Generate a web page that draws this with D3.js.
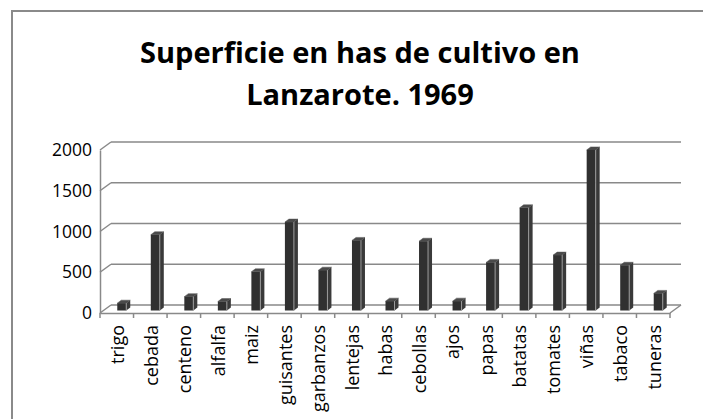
<!DOCTYPE html>
<html>
<head>
<meta charset="utf-8">
<script src="https://cdn.jsdelivr.net/npm/d3@7"></script>
<style>
  body { margin: 0; background: #fff; }
  text { font-family: "Open Sans", sans-serif; }
</style>
</head>
<body>
<div class="grafico"></div>
<script>
var width = 703, height = 419;

// datos
const cultivos = ["trigo", "cebada", "centeno", "alfalfa", "maiz", "guisantes", "garbanzos", "lentejas",
  "habas", "cebollas", "ajos", "papas", "batatas", "tomates", "viñas", "tabaco", "tuneras"];
const hectareas = [90, 930, 170, 110, 475, 1085, 495, 860, 115, 850, 115, 590, 1260, 680, 1970, 555, 210];
const ticksY = [0, 500, 1000, 1500, 2000];
const titulo = ["Superficie en has de cultivo en", "Lanzarote. 1969"];

const datos = cultivos.map((c, i) => ({ cultivo: c, valor: hectareas[i] }));

// 3d depth offset
const dx = 11, dy = 8;
const axisColor = "#898989";

let svg = d3.select(".grafico")
  .append("svg")
  .attr("width", width)
  .attr("height", height);

// marco
svg.append("rect")
  .attr("x", 12).attr("y", 11)
  .attr("width", 720).attr("height", 430)
  .attr("fill", "#fff")
  .attr("stroke", "#8a8a8a")
  .attr("stroke-width", 2);

// titulo
svg.append("g")
  .selectAll("text")
  .data(titulo)
  .enter().append("text")
  .attr("x", 360)
  .attr("y", (d, i) => 63 + i * 42)
  .attr("text-anchor", "middle")
  .attr("font-size", 29)
  .attr("font-weight", "bold")
  .attr("fill", "#000")
  .text(d => d);

const x = d3.scaleBand()
  .domain(cultivos)
  .range([100, 670]);

const y = d3.scaleLinear()
  .domain([0, 2000])
  .range([313, 150]);

// escala de las barras (a media profundidad)
const yBar = d3.scaleLinear()
  .domain([0, 2000])
  .range([310.5, 147.5]);

// lineas de la pared del fondo y lateral
let grid = svg.append("g").attr("class", "grid");
grid.selectAll("line.back")
  .data(ticksY)
  .enter().append("line")
  .attr("class", "back")
  .attr("x1", 100 + dx).attr("x2", 670 + dx)
  .attr("y1", d => y(d) - dy).attr("y2", d => y(d) - dy)
  .attr("stroke", axisColor).attr("stroke-width", 1.5);
grid.selectAll("line.side")
  .data(ticksY)
  .enter().append("line")
  .attr("class", "side")
  .attr("x1", 100).attr("x2", 100 + dx)
  .attr("y1", d => y(d)).attr("y2", d => y(d) - dy)
  .attr("stroke", axisColor).attr("stroke-width", 1.5);

// suelo: diagonal derecha
svg.append("line")
  .attr("x1", 670).attr("x2", 670 + dx)
  .attr("y1", y(0)).attr("y2", y(0) - dy)
  .attr("stroke", axisColor).attr("stroke-width", 1.5);

// eje y
let yAxis = svg.append("g")
  .attr("class", "y axis")
  .attr("transform", "translate(100,0)")
  .call(d3.axisLeft(y).tickValues(ticksY).tickFormat(d3.format("d")).tickSize(0).tickPadding(8));
yAxis.select(".domain").attr("stroke", axisColor).attr("stroke-width", 1.5);
yAxis.selectAll("text")
  .attr("font-size", 17.5)
  .attr("font-family", "Open Sans")
  .attr("fill", "#000");

// eje x
let xAxis = svg.append("g")
  .attr("class", "x axis")
  .attr("transform", "translate(0," + y(0) + ")")
  .call(d3.axisBottom(x).tickSize(0).tickPadding(0));
xAxis.select(".domain").attr("stroke", axisColor).attr("stroke-width", 1.5);
xAxis.selectAll(".tick line").remove();
xAxis.selectAll("line.sep")
  .data(d3.range(cultivos.length + 1))
  .enter().append("line")
  .attr("class", "sep")
  .attr("x1", i => 100 + i * x.step()).attr("x2", i => 100 + i * x.step())
  .attr("y1", 0).attr("y2", 5)
  .attr("stroke", axisColor).attr("stroke-width", 1.5);
xAxis.selectAll("text")
  .attr("font-size", 18)
  .attr("font-family", "Open Sans")
  .attr("fill", "#000")
  .attr("text-anchor", "end")
  .attr("dy", "0.35em")
  .attr("transform", "translate(1,12) rotate(-90)")
  .attr("x", 0).attr("y", 0);

// barras 3d
const fw = 9, sw = 4, sh = 3;
let barras = svg.append("g")
  .selectAll("g.bar")
  .data(datos)
  .enter().append("g")
  .attr("class", "bar");

barras.append("path")
  .attr("d", d => {
    let xl = x(d.cultivo) + x.bandwidth() / 2 + 0.5, xr = xl + fw, t = yBar(d.valor);
    return `M${xl},${t}L${xl + sw},${t - sh}L${xr + sw},${t - sh}L${xr},${t}Z`;
  })
  .attr("fill", "#4a4a4a").attr("stroke", "#555").attr("stroke-width", 0.5);

barras.append("path")
  .attr("d", d => {
    let xr = x(d.cultivo) + x.bandwidth() / 2 + 0.5 + fw, t = yBar(d.valor), b = yBar(0);
    return `M${xr},${t}L${xr + sw},${t - sh}L${xr + sw},${b - sh}L${xr},${b}Z`;
  })
  .attr("fill", "#3a3a3a");

barras.append("rect")
  .attr("x", d => x(d.cultivo) + x.bandwidth() / 2 + 0.5)
  .attr("y", d => yBar(d.valor))
  .attr("width", fw)
  .attr("height", d => yBar(0) - yBar(d.valor))
  .attr("fill", "#303030");

barras.append("line")
  .attr("x1", d => x(d.cultivo) + x.bandwidth() / 2 + 0.5 + fw)
  .attr("x2", d => x(d.cultivo) + x.bandwidth() / 2 + 0.5 + fw)
  .attr("y1", d => yBar(d.valor))
  .attr("y2", yBar(0))
  .attr("stroke", "#9a9a9a").attr("stroke-width", 1);
</script>
</body>
</html>
